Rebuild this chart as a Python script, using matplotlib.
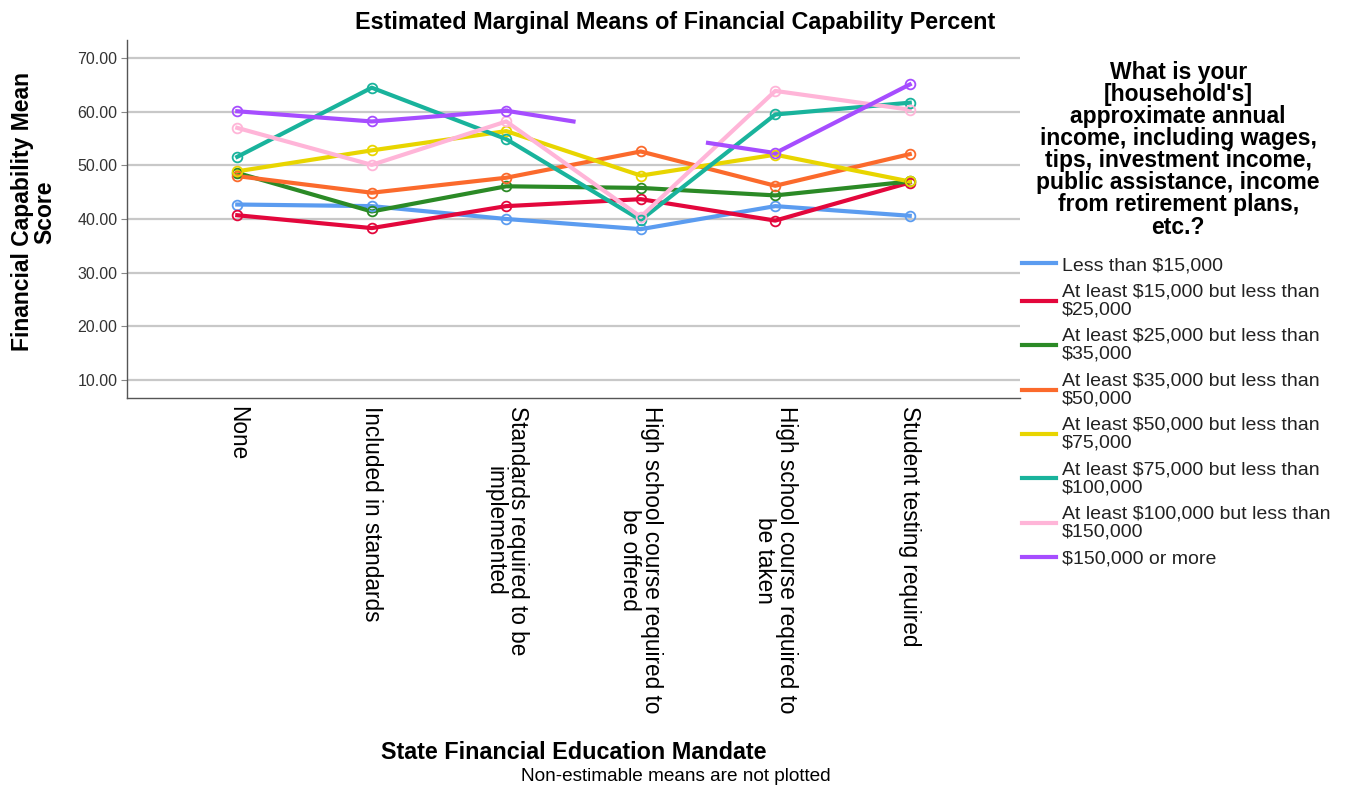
import matplotlib
matplotlib.use("Agg")
import matplotlib.pyplot as plt
import numpy as np

plt.rcParams["font.family"] = ["Liberation Sans", "DejaVu Sans"]

CATEGORIES = [
    "None",
    "Included in standards",
    "Standards required to be\nimplemented",
    "High school course required to\nbe offered",
    "High school course required to\nbe taken",
    "Student testing required",
]

INCOME_LABELS = [
    "Less than $15,000",
    "At least $15,000 but less than\n$25,000",
    "At least $25,000 but less than\n$35,000",
    "At least $35,000 but less than\n$50,000",
    "At least $50,000 but less than\n$75,000",
    "At least $75,000 but less than\n$100,000",
    "At least $100,000 but less than\n$150,000",
    "$150,000 or more",
]

less_15k = [42.7, 42.4, 40.0, 38.1, 42.4, 40.6]
from_15k_25k = [40.7, 38.3, 42.4, 43.7, 39.7, 46.8]
from_25k_35k = [48.6, 41.4, 46.1, 45.8, 44.4, 47.0]
from_35k_50k = [48.0, 44.9, 47.7, 52.6, 46.2, 52.1]
from_50k_75k = [48.9, 52.8, 56.4, 48.1, 52.0, 47.0]
from_75k_100k = [51.6, 64.5, 54.9, 39.8, 59.5, 61.7]
from_100k_150k = [57.0, 50.1, 58.2, 40.4, 63.9, 60.4]
over_150k = [60.1, 58.2, 60.2, np.nan, 52.3, 65.1]

# SPSS draws half-segments toward a non-estimable mean
over_150k_stub_pos = [2.5, 3.5]
over_150k_stub_val = [58.2, 54.2]

SERIES = [less_15k, from_15k_25k, from_25k_35k, from_35k_50k,
          from_50k_75k, from_75k_100k, from_100k_150k, over_150k]
COLORS = ["#5b9cf0", "#e3073c", "#2b8a26", "#fb6a2c",
          "#e8d500", "#19b39c", "#ffb5d8", "#a64dff"]

YTICKS = [10, 20, 30, 40, 50, 60, 70]

LEGEND_TITLE = ("What is your\n[household's]\napproximate annual\n"
                "income, including wages,\ntips, investment income,\n"
                "public assistance, income\nfrom retirement plans,\netc.?")

fig = plt.figure(figsize=(13.48, 7.92), dpi=100)
ax = fig.add_axes([0.0942, 0.4975, 0.6625, 0.452])

x = np.arange(len(CATEGORIES))
handles = []
for vals, color, label in zip(SERIES, COLORS, INCOME_LABELS):
    vals = np.array(vals, dtype=float)
    h, = ax.plot(x, vals, color=color, lw=3, label=label, zorder=3)
    ax.plot(x, vals, ls="none", marker="o", ms=7, mfc="none",
            mec=color, mew=1.3, zorder=4)
    handles.append(h)

# stubs for the highest income group around the missing mean
ax.plot([x[2], over_150k_stub_pos[0]], [over_150k[2], over_150k_stub_val[0]],
        color=COLORS[7], lw=3, zorder=3)
ax.plot([over_150k_stub_pos[1], x[4]], [over_150k_stub_val[1], over_150k[4]],
        color=COLORS[7], lw=3, zorder=3)

ax.set_xlim(-0.82, 5.82)
ax.set_ylim(6.6, 73.4)
ax.set_yticks(YTICKS)
ax.set_yticklabels([f"{v:.2f}" for v in YTICKS], fontsize=11.5, color="#333333")
ax.set_xticks(x)
ax.set_xticklabels(CATEGORIES, rotation=270, fontsize=16.3, va="top",
                   ha="center", linespacing=0.95)
ax.tick_params(axis="x", length=0, pad=6)
ax.tick_params(axis="y", length=4, color="#888888", pad=3)
ax.yaxis.grid(True, color="#c8c8c8", lw=1.6)
ax.set_axisbelow(True)
for side in ["top", "right"]:
    ax.spines[side].set_visible(False)
for side in ["left", "bottom"]:
    ax.spines[side].set_color("#555555")
    ax.spines[side].set_linewidth(1.0)

ax.set_ylabel("Financial Capability Mean\nScore", fontsize=16.5,
              fontweight="bold", linespacing=0.95)
ax.yaxis.set_label_coords(-0.079, 0.52)

fig.text(0.501, 0.972, "Estimated Marginal Means of Financial Capability Percent",
         ha="center", va="center", fontsize=16.8, fontweight="bold")
fig.text(0.426, 0.05, "State Financial Education Mandate", ha="center",
         va="center", fontsize=16.8, fontweight="bold")
fig.text(0.501, 0.019, "Non-estimable means are not plotted", ha="center",
         va="center", fontsize=13.7)

fig.text(0.874, 0.811, LEGEND_TITLE, ha="center", va="center",
         fontsize=16.5, fontweight="bold", linespacing=0.95)

leg = fig.legend(handles=handles, labels=INCOME_LABELS, loc="upper left",
                 bbox_to_anchor=(0.758, 0.676), frameon=False, fontsize=14,
                 handlelength=1.75, handletextpad=0.3, labelspacing=0.48,
                 borderpad=0, borderaxespad=0)
for t in leg.get_texts():
    t.set_linespacing(1.08)
    t.set_color("#222222")

fig.savefig("out.png", dpi=100)
